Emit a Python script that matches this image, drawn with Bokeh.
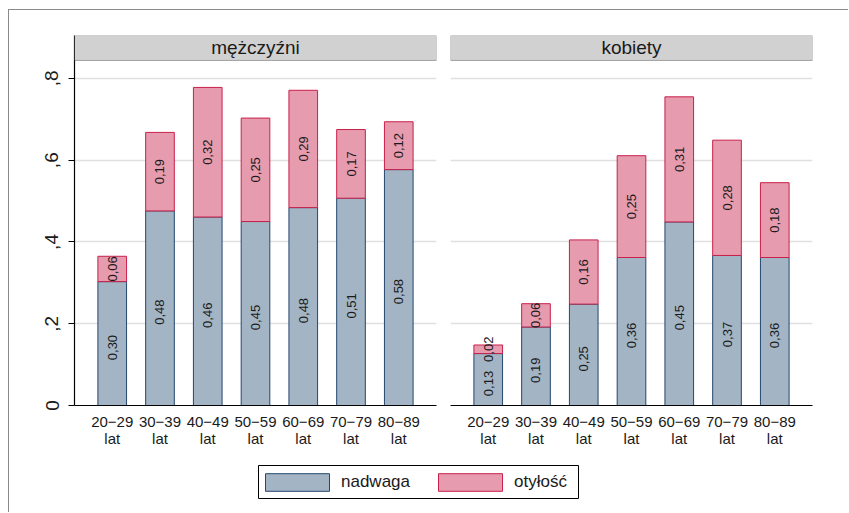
import math
from bokeh.plotting import figure
from bokeh.models import (ColumnDataSource, Range1d, FixedTicker, BoxAnnotation,
                          Label, Legend, LegendItem)
from bokeh.layouts import row, column
from bokeh.embed import file_html
from bokeh.resources import INLINE

# ---------------- data ----------------
age_groups = ["20−29", "30−39", "40−49", "50−59", "60−69", "70−79", "80−89"]
age_suffix = "lat"
panel_titles = ["mężczyźni", "kobiety"]
series_names = ["nadwaga", "otyłość"]

men_nadwaga = [0.303, 0.476, 0.461, 0.450, 0.484, 0.507, 0.577]
men_otylosc = [0.062, 0.192, 0.317, 0.253, 0.287, 0.168, 0.117]
women_nadwaga = [0.127, 0.192, 0.248, 0.362, 0.449, 0.367, 0.362]
women_otylosc = [0.021, 0.057, 0.157, 0.249, 0.306, 0.282, 0.183]

y_ticks = [0, 0.2, 0.4, 0.6, 0.8]
y_tick_labels = ["0", ",2", ",4", ",6", ",8"]

# ---------------- style ----------------
FONT = "Liberation Sans"
TXT = "#1a1a1a"
NAD_FILL, NAD_LINE = "#a3b4c4", "#24486e"
OTY_FILL, OTY_LINE = "#e69bae", "#c8204a"
HEADER_FILL = "#d1d1d1"
GRID = "#e0e0e0"

Y_TOP = 0.905
HEADER_BOTTOM = 0.844


def fmt(v):
    return f"{v:.2f}".replace(".", ",")


def make_panel(nad, oty, title, width, border_left, border_right, show_y):
    xs = list(range(1, len(age_groups) + 1))
    tot = [a + b for a, b in zip(nad, oty)]
    src = ColumnDataSource(dict(
        x=xs, zero=[0] * len(xs), nad=nad, tot=tot,
        mid_n=[a / 2 for a in nad],
        mid_o=[a + b / 2 for a, b in zip(nad, oty)],
        lab_n=[fmt(a) for a in nad],
        lab_o=[fmt(b) for b in oty],
    ))
    p = figure(width=width, height=445,
               x_range=Range1d(1 - 0.79, len(age_groups) + 0.79),
               y_range=Range1d(0, Y_TOP),
               output_backend="svg", toolbar_location=None,
               min_border_left=border_left, min_border_right=border_right,
               min_border_top=25, min_border_bottom=50,
               y_axis_location="left" if show_y else None)
    p.outline_line_color = None
    p.background_fill_color = "white"
    p.border_fill_color = "white"

    p.vbar(x="x", bottom="zero", top="nad", width=0.6, source=src,
           fill_color=NAD_FILL, line_color=NAD_LINE, line_width=1)
    p.vbar(x="x", bottom="nad", top="tot", width=0.6, source=src,
           fill_color=OTY_FILL, line_color=OTY_LINE, line_width=1)

    p.text(x="x", y="mid_n", text="lab_n", source=src, angle=math.pi / 2,
           text_align="center", text_baseline="middle", y_offset=4,
           text_font_size="13px", text_color=TXT,
           text_font={"value": FONT})
    p.text(x="x", y="mid_o", text="lab_o", source=src, angle=math.pi / 2,
           text_align="center", text_baseline="middle",
           text_font_size="13px", text_color=TXT,
           text_font={"value": FONT})

    # header strip
    p.add_layout(BoxAnnotation(bottom=HEADER_BOTTOM, fill_color=HEADER_FILL,
                               fill_alpha=1, line_color="black", line_width=1,
                               level="overlay"))
    p.add_layout(Label(x=(1 + len(age_groups)) / 2,
                       y=(HEADER_BOTTOM + Y_TOP) / 2, text=title,
                       text_align="center", text_baseline="middle",
                       text_font_size="19px", text_font=FONT,
                       text_color=TXT, level="overlay"))

    # grid
    p.xgrid.visible = False
    p.ygrid.ticker = FixedTicker(ticks=y_ticks[1:])
    p.ygrid.grid_line_color = GRID
    p.ygrid.grid_line_width = 1.5

    # x axis
    xa = p.xaxis[0]
    xa.ticker = FixedTicker(ticks=xs)
    xa.major_label_overrides = {x: f"{g}\n{age_suffix}" for x, g in zip(xs, age_groups)}
    xa.major_tick_line_color = None
    xa.minor_tick_line_color = None
    xa.major_tick_out = 0
    xa.major_tick_in = 0
    xa.major_label_standoff = 7
    xa.axis_line_color = "black"
    xa.axis_line_width = 1.2
    xa.major_label_text_font = FONT
    xa.major_label_text_font_size = "15px"
    xa.major_label_text_line_height = 1.05
    xa.major_label_text_color = TXT

    if show_y:
        ya = p.yaxis[0]
        ya.ticker = FixedTicker(ticks=y_ticks)
        ya.major_label_overrides = dict(zip(y_ticks, y_tick_labels))
        ya.major_label_orientation = "vertical"
        ya.major_tick_out = 6
        ya.major_tick_in = 0
        ya.minor_tick_line_color = None
        ya.major_tick_line_color = "black"
        ya.axis_line_color = "black"
        ya.axis_line_width = 1.2
        ya.major_label_standoff = 10
        ya.major_label_text_font = FONT
        ya.major_label_text_font_size = "19px"
        ya.major_label_text_color = TXT
    return p


f1 = make_panel(men_nadwaga, men_otylosc, panel_titles[0], 434, 65, 7, True)
f2 = make_panel(women_nadwaga, women_otylosc, panel_titles[1], 405, 7, 36, False)

# legend strip: its frame outline is the legend box
f3 = figure(width=839, height=57, x_range=Range1d(0, 1), y_range=Range1d(0, 1),
            output_backend="svg", toolbar_location=None,
            x_axis_location=None, y_axis_location=None,
            min_border_left=249, min_border_right=270,
            min_border_top=10, min_border_bottom=14)
f3.outline_line_color = "black"
f3.outline_line_width = 1
f3.xgrid.visible = False
f3.ygrid.visible = False
# legend-only renderers, placed outside the visible range
r1 = f3.vbar(x=[-5], top=[-5], width=0.1, fill_color=NAD_FILL, line_color=NAD_LINE)
r2 = f3.vbar(x=[-5], top=[-5], width=0.1, fill_color=OTY_FILL, line_color=OTY_LINE)
legend = Legend(items=[LegendItem(label=series_names[0], renderers=[r1]),
                       LegendItem(label=series_names[1], renderers=[r2])],
                location=(-1, 5), orientation="horizontal",
                padding=0, spacing=20, margin=0,
                glyph_width=80, glyph_height=22, label_standoff=4,
                label_height=22,
                label_text_font=FONT, label_text_font_size="17px",
                label_text_color=TXT,
                border_line_color=None,
                background_fill_color="white", background_fill_alpha=0)
f3.add_layout(legend)

layout = column(row(f1, f2), f3, margin=(9, 0, 0, 8),
                styles={"border-top": "1px solid #8a8a8a",
                        "border-left": "1px solid #8a8a8a"})

open("out.html", "w").write(file_html(layout, INLINE))
